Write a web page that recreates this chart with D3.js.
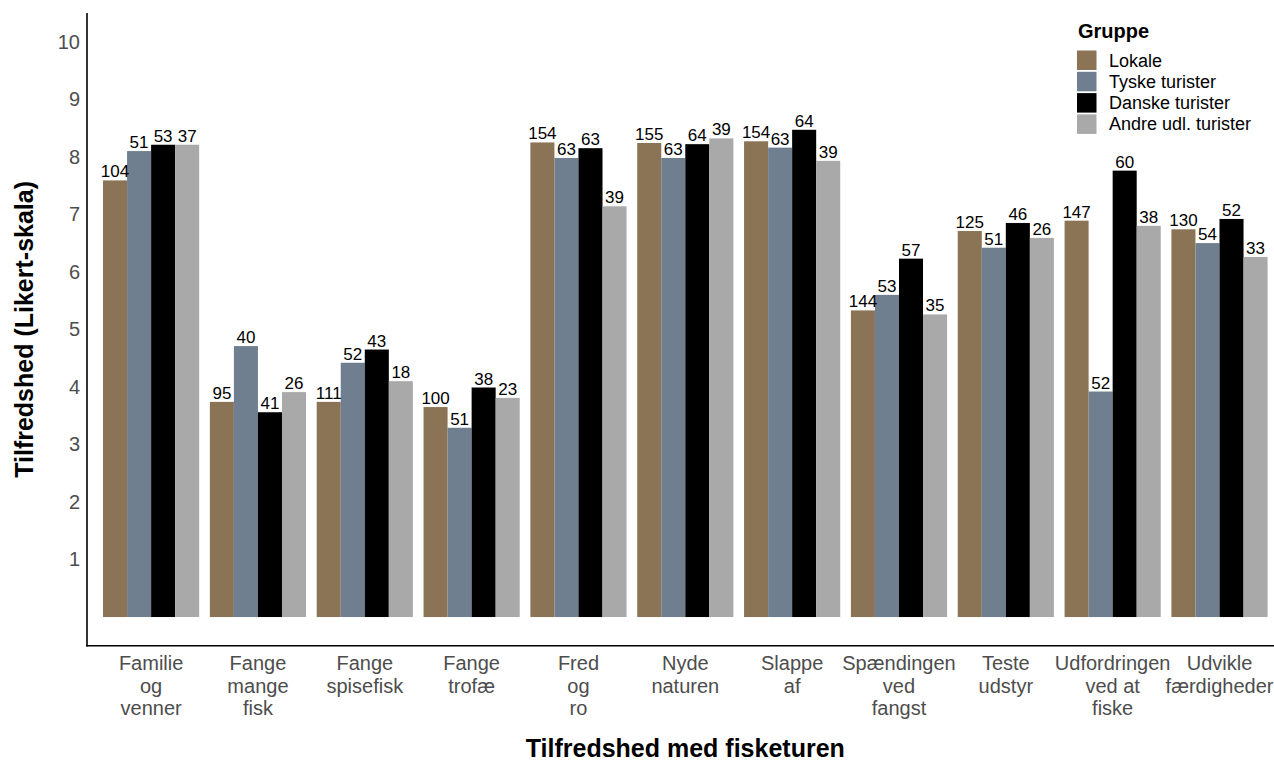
<!DOCTYPE html>
<html>
<head>
<meta charset="utf-8">
<script src="https://cdn.jsdelivr.net/npm/d3@7"></script>
<style>
  html, body { margin: 0; padding: 0; background: #fff; }
  svg { display: block; font-family: "Liberation Sans", Arial, sans-serif; }
</style>
</head>
<body>
<svg id="chart" width="1274" height="762"></svg>
<script>
const categories = [
  ["Familie", "og", "venner"],
  ["Fange", "mange", "fisk"],
  ["Fange", "spisefisk"],
  ["Fange", "trofæ"],
  ["Fred", "og", "ro"],
  ["Nyde", "naturen"],
  ["Slappe", "af"],
  ["Spændingen", "ved", "fangst"],
  ["Teste", "udstyr"],
  ["Udfordringen", "ved at", "fiske"],
  ["Udvikle", "færdigheder"]
];
const groups = ["Lokale", "Tyske turister", "Danske turister", "Andre udl. turister"];
const colors = ["#8B7355", "#6F7F8F", "#000000", "#A9A9A9"];

const lokale = [7.59, 3.74, 3.74, 3.65, 8.25, 8.24, 8.27, 5.33, 6.71, 6.89, 6.74];
const tyske  = [8.10, 4.71, 4.42, 3.29, 7.98, 7.98, 8.16, 5.60, 6.42, 3.92, 6.50];
const danske = [8.21, 3.56, 4.65, 3.99, 8.15, 8.22, 8.47, 6.23, 6.85, 7.76, 6.92];
const andre  = [8.21, 3.91, 4.10, 3.81, 7.14, 8.32, 7.93, 5.26, 6.59, 6.80, 6.26];

const nLokale = [104, 95, 111, 100, 154, 155, 154, 144, 125, 147, 130];
const nTyske  = [51, 40, 52, 51, 63, 63, 63, 53, 51, 52, 54];
const nDanske = [53, 41, 43, 38, 63, 64, 64, 57, 46, 60, 52];
const nAndre  = [37, 26, 18, 23, 39, 39, 39, 35, 26, 38, 33];

const yTicks = [1, 2, 3, 4, 5, 6, 7, 8, 9, 10];

const values = [lokale, tyske, danske, andre];
const counts = [nLokale, nTyske, nDanske, nAndre];

(function () {
const svg = d3.select("#chart");
const pLeft = 87, pRight = 1283.6, pTop = 13, pBottom = 645.8;
const catKeys = categories.map((c, i) => i);

const x = d3.scaleBand().domain(catKeys).range([pLeft, pRight]).paddingInner(0.1).paddingOuter(0.15);
const xi = d3.scaleBand().domain(d3.range(groups.length)).range([0, x.bandwidth()]);
const y = d3.scaleLinear().domain([-0.5, 10.5]).range([pBottom, pTop]);

const data = [];
catKeys.forEach(ci => {
  groups.forEach((g, gi) => {
    data.push({ ci, gi, v: values[gi][ci], n: counts[gi][ci] });
  });
});

// bars
svg.append("g").selectAll("rect").data(data).join("rect")
  .attr("x", d => x(d.ci) + xi(d.gi))
  .attr("width", xi.bandwidth())
  .attr("y", d => y(d.v))
  .attr("height", d => y(0) - y(d.v))
  .attr("fill", d => colors[d.gi]);

// labels
svg.append("g").selectAll("text").data(data).join("text")
  .attr("x", d => x(d.ci) + xi(d.gi) + xi.bandwidth() / 2)
  .attr("y", d => y(d.v) - 3)
  .attr("text-anchor", "middle")
  .attr("font-size", 17)
  .attr("fill", "#000")
  .text(d => d.n);

// y axis
const yAxis = d3.axisLeft(y).tickValues(yTicks).tickSize(0).tickPadding(7);
const gy = svg.append("g").attr("transform", `translate(${pLeft},0)`).call(yAxis);
gy.select(".domain").remove();
gy.selectAll("text").attr("font-size", 20).attr("fill", "#4d4d4d").attr("font-family", "Liberation Sans, Arial, sans-serif");

// x axis
const xAxis = d3.axisBottom(x).tickSize(0).tickFormat("");
const gx = svg.append("g").attr("transform", `translate(0,${pBottom})`).call(xAxis);
gx.select(".domain").remove();
const tl = svg.append("g");
catKeys.forEach(ci => {
  const t = tl.append("text")
    .attr("text-anchor", "middle")
    .attr("font-size", 20)
    .attr("fill", "#4d4d4d")
    .attr("transform", `translate(${x(ci) + x.bandwidth() / 2},${670})`);
  categories[ci].forEach((line, li) => {
    t.append("tspan").attr("x", 0).attr("y", li * 22.5).text(line);
  });
});

// axis lines
svg.append("line").attr("x1", pLeft).attr("x2", pLeft).attr("y1", pTop).attr("y2", pBottom + 0.75)
  .attr("stroke", "#000").attr("stroke-width", 1.6);
svg.append("line").attr("x1", pLeft - 0.75).attr("x2", 1274).attr("y1", pBottom).attr("y2", pBottom)
  .attr("stroke", "#000").attr("stroke-width", 1.6);

// axis titles
svg.append("text")
  .attr("x", (pLeft + pRight) / 2).attr("y", 757)
  .attr("text-anchor", "middle").attr("font-size", 25).attr("font-weight", "bold").attr("fill", "#000")
  .text("Tilfredshed med fisketuren");
svg.append("text")
  .attr("transform", `translate(33,${(pTop + pBottom) / 2}) rotate(-90)`)
  .attr("text-anchor", "middle").attr("font-size", 25).attr("font-weight", "bold").attr("fill", "#000")
  .text("Tilfredshed (Likert-skala)");

// legend
const lg = svg.append("g").attr("transform", "translate(1077,0)");
lg.append("text").attr("x", 1).attr("y", 38).attr("font-size", 20).attr("font-weight", "bold").text("Gruppe");
groups.forEach((g, gi) => {
  const yy = 50.5 + gi * 21.3;
  lg.append("rect").attr("x", 0).attr("y", yy).attr("width", 19.5).attr("height", 19.5).attr("fill", colors[gi]);
  lg.append("text").attr("x", 32).attr("y", yy + 16).attr("font-size", 18).attr("fill", "#000").text(g);
});
})();
</script>
</body>
</html>
